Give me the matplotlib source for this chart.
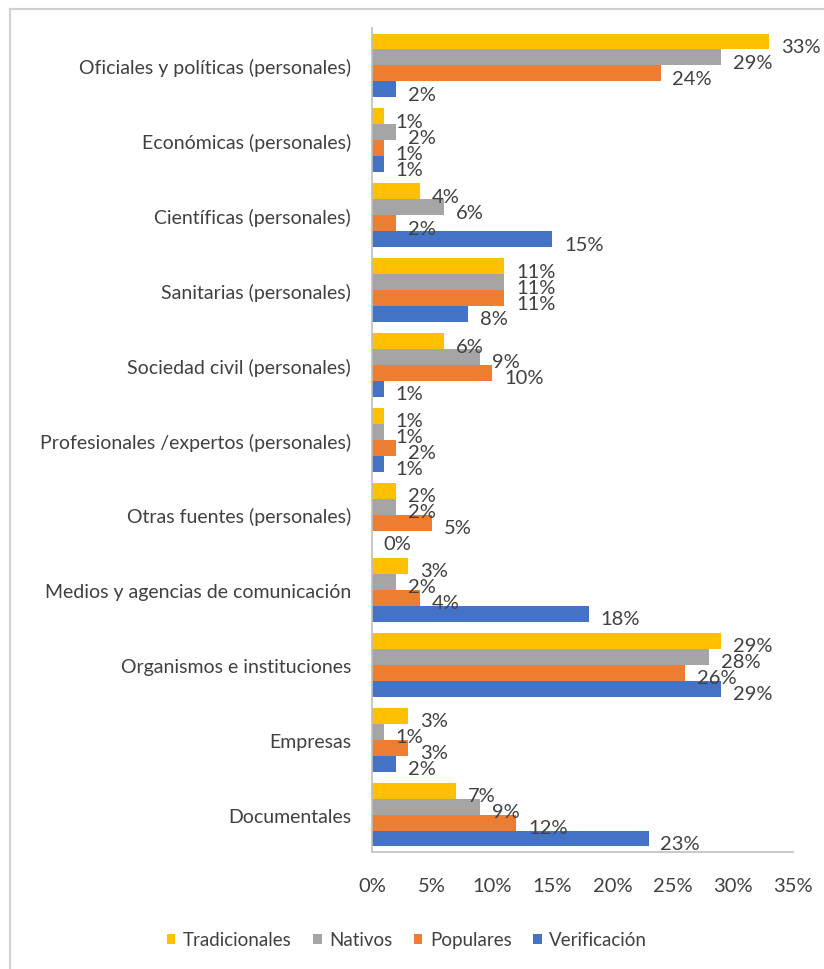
import numpy as np
import matplotlib.pyplot as plt
from matplotlib.lines import Line2D
from matplotlib.patches import Patch

plt.rcParams['font.family'] = ['Lato', 'DejaVu Sans']

categories = [
    "Oficiales y políticas (personales)",
    "Económicas (personales)",
    "Científicas (personales)",
    "Sanitarias (personales)",
    "Sociedad civil (personales)",
    "Profesionales /expertos (personales)",
    "Otras fuentes (personales)",
    "Medios y agencias de comunicación",
    "Organismos e instituciones",
    "Empresas",
    "Documentales",
]
series_names = ["Tradicionales", "Nativos", "Populares", "Verificación"]
tradicionales = [33, 1, 4, 11, 6, 1, 2, 3, 29, 3, 7]
nativos = [29, 2, 6, 11, 9, 1, 2, 2, 28, 1, 9]
populares = [24, 1, 2, 11, 10, 2, 5, 4, 26, 3, 12]
verificacion = [2, 1, 15, 8, 1, 1, 0, 18, 29, 2, 23]
xticks = [0, 5, 10, 15, 20, 25, 30, 35]

colors = ["#FFC000", "#A5A5A5", "#ED7D31", "#4472C4"]
text_color = "#404040"

fig = plt.figure(figsize=(8.24, 9.7), dpi=100)
ax = fig.add_axes([372 / 824, 1 - 853 / 970, 421 / 824, 824 / 970])

all_series = [tradicionales, nativos, populares, verificacion]
y = np.arange(len(categories))
h = 0.213
for i, (vals, col) in enumerate(zip(all_series, colors)):
    pos = y + (i - 1.5) * h
    bars = ax.barh(pos, vals, height=h, color=col)
    for b, v in zip(bars, vals):
        ax.annotate(f"{v}%", (v, b.get_y() + h / 2), xytext=(8.5, -3.5),
                    textcoords="offset points", ha="left", va="center",
                    fontsize=14.5, color=text_color)

ax.set_ylim(len(categories) - 0.5, -0.5)
ax.set_xlim(0, 35)
ax.set_yticks(y)
ax.set_yticklabels(categories, fontsize=14, color=text_color)
ax.set_xticks(xticks)
ax.set_xticklabels([f"{t}%" for t in xticks], fontsize=14.5, color=text_color)
ax.tick_params(axis="both", length=0)
ax.tick_params(axis="x", pad=18)
ax.tick_params(axis="y", pad=15)
for s in ["top", "right"]:
    ax.spines[s].set_visible(False)
for s in ["left", "bottom"]:
    ax.spines[s].set_color("#BFBFBF")
    ax.spines[s].set_linewidth(1.2)

handles = [Patch(facecolor=c, edgecolor="none") for c in colors]
fig.legend(handles, series_names, loc="center", bbox_to_anchor=(407 / 824, 1 - 941 / 970),
           ncol=4, frameon=False, fontsize=13.5, handlelength=0.45, handleheight=0.45,
           columnspacing=1.15, handletextpad=0.4, labelcolor=text_color,
           borderpad=0, borderaxespad=0)

# chart frame
fig.add_artist(Line2D([10 / 824, 1], [1 - 10 / 970] * 2, color="#D0D0D0", lw=1.5))
fig.add_artist(Line2D([10 / 824] * 2, [0, 1 - 10 / 970], color="#D0D0D0", lw=1.5))

fig.savefig("out.png", dpi=100)
